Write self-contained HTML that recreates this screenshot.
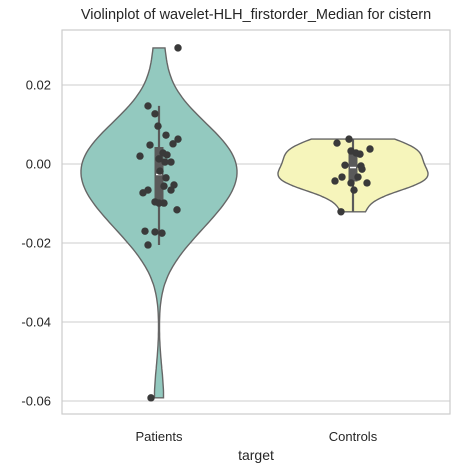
<!DOCTYPE html>
<html><head><meta charset="utf-8"><style>
body{margin:0;background:#fff}
svg{display:block;font-family:"Liberation Sans",sans-serif}
</style></head><body>
<svg id="chart" width="466" height="473"></svg>
<script>
const categories=["Patients","Controls"];
const patientValues=[0.0294,0.0147,0.0127,0.0096,0.0073,0.0063,0.0051,0.0048,0.0020,0.0028,0.0023,0.0013,0.0005,0.0005,-0.0018,-0.0035,-0.0056,-0.0053,-0.0066,-0.0066,-0.0073,-0.0096,-0.0099,-0.0099,-0.0116,-0.0170,-0.0172,-0.0175,-0.0205,-0.0592];
const patientJitter=[19,-11,-4,-1,7,19,14,-9,-19,4,8,0,6,12,1,7,5,15,12,-11,-16,-4,0,5,18,-14,-4,3,-11,-8];
const controlValues=[0.0053,0.0063,0.0033,0.0025,0.0038,0.0028,-0.0003,-0.0005,-0.0013,-0.0033,-0.0043,-0.0033,-0.0048,-0.0066,-0.0048,-0.0121];
const controlJitter=[-16,-4,-2,7,17,3,-8,8,9,-11,-18,5,-2,1,14,-12];
const yTicks=[0.02,0.00,-0.02,-0.04,-0.06];
const yTickLabels=["0.02","0.00","-0.02","-0.04","-0.06"];

const svg=document.getElementById('chart');
const NS="http://www.w3.org/2000/svg";
const L=62,R=450,T=30,B=414;
const y=v=>164-(v/0.02)*79;
const xc=i=>159+i*194;
function mk(t,a,p){const e=document.createElementNS(NS,t);for(const k in a)e.setAttribute(k,a[k]);(p||svg).appendChild(e);return e;}

yTicks.forEach((t,i)=>{
  const g=mk('line',{x1:L,x2:R,y1:y(t),y2:y(t),stroke:'#cccccc','stroke-width':1});
  
  
  const tx=mk('text',{x:L-11,y:y(t)+4.5,'text-anchor':'end','font-size':13,fill:'#262626'});
  tx.textContent=yTickLabels[i];
  
  
});
const fr=mk('rect',{x:L,y:T,width:R-L,height:B-T,fill:'none',stroke:'#cccccc','stroke-width':1.2});



function stats(a){const s=[...a].sort((p,q)=>p-q);const n=s.length;
  const mean=s.reduce((p,q)=>p+q,0)/n;const sd=Math.sqrt(s.reduce((p,q)=>p+(q-mean)**2,0)/(n-1));
  const qf=f=>{const h=(n-1)*f,lo=Math.floor(h);return s[lo]+(s[Math.min(lo+1,n-1)]-s[lo])*(h-lo);};
  return {s,n,sd,q1:qf(.25),q2:qf(.5),q3:qf(.75)};}

function violin(vals,jit,i,fill,hw){
  const st=stats(vals);const bw=st.sd*Math.pow(st.n,-0.2);
  const lo=st.s[0],hi=st.s[st.n-1];const N=120;const pts=[];let mx=0;
  for(let k=0;k<=N;k++){const v=lo+(hi-lo)*k/N;let d=0;vals.forEach(u=>d+=Math.exp(-0.5*((v-u)/bw)**2));pts.push([v,d]);if(d>mx)mx=d;}
  const cx=xc(i);
  let dstr=pts.map((p,k)=>(k?'L':'M')+(cx+p[1]/mx*hw).toFixed(1)+','+y(p[0]).toFixed(1)).join('');
  dstr+=pts.slice().reverse().map(p=>'L'+(cx-p[1]/mx*hw).toFixed(1)+','+y(p[0]).toFixed(1)).join('')+'Z';
  const vp=mk('path',{d:dstr,fill:fill,stroke:'#666666','stroke-width':1.4});
  
  
  const iqr=st.q3-st.q1;
  const wl=st.s.find(v=>v>=st.q1-1.5*iqr),wh=[...st.s].reverse().find(v=>v<=st.q3+1.5*iqr);
  const wk=mk('line',{x1:cx,x2:cx,y1:y(wh),y2:y(wl),stroke:'#5a5a5a','stroke-width':2.2});
  
  
  const bx=mk('rect',{x:cx-4.5,y:y(st.q3),width:9,height:y(st.q1)-y(st.q3),fill:'#5a5a5a'});
  
  
  const md=mk('line',{x1:cx-3,x2:cx+3,y1:y(st.q2),y2:y(st.q2),stroke:'#ffffff','stroke-width':1.5});
  
  
  vals.forEach((v,k)=>{
    const c=mk('circle',{cx:cx+jit[k],cy:y(v),r:3.7,fill:'#3a3a3a'});
    
    
  });
  const xl=mk('text',{x:cx,y:441,'text-anchor':'middle','font-size':13,fill:'#262626'});
  xl.textContent=categories[i];
  
  
}
violin(patientValues,patientJitter,0,'#93c9bf',78);
violin(controlValues,controlJitter,1,'#f6f5bb',75);

const tt=mk('text',{x:256,y:19,'text-anchor':'middle','font-size':14.5,fill:'#262626'});
tt.textContent='Violinplot of wavelet-HLH_firstorder_Median for cistern';


const xt=mk('text',{x:256,y:460,'text-anchor':'middle','font-size':14,fill:'#262626'});
xt.textContent='target';


</script>
</body></html>
